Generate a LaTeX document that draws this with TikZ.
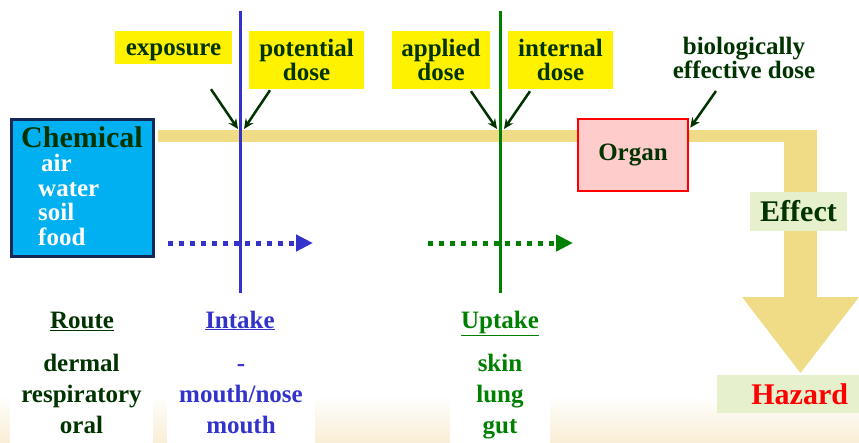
\documentclass[tikz,border=0pt]{standalone}
\usepackage{fontspec}
\setmainfont{Liberation Serif}
\usetikzlibrary{arrows.meta, positioning, calc}

\definecolor{leaf}{RGB}{0,51,0}
\definecolor{intakeblue}{RGB}{51,51,204}
\definecolor{uptakegreen}{RGB}{0,128,0}
\definecolor{bandtan}{RGB}{240,220,135}
\definecolor{chemcyan}{RGB}{0,176,240}
\definecolor{chemnavy}{RGB}{20,40,90}
\definecolor{organpink}{RGB}{255,204,204}
\definecolor{palegreen}{RGB}{230,240,204}
\definecolor{sandfoot}{RGB}{249,238,214}

\begin{document}
\begin{tikzpicture}[
  x=1pt, y=-1pt,
  font=\bfseries\fontsize{25}{24}\selectfont,
  tag/.style={fill=yellow, text=leaf, inner sep=0pt},
  pairtag/.style={tag, align=center, minimum height=58pt},
  ptr/.style={leaf, line width=2.5pt, -{Stealth[length=10pt,width=9pt]}},
  flow/.style={line width=5pt, dash pattern=on 5pt off 6pt, -{Triangle[length=17pt,width=16pt]}},
  col/.style={align=center, fill=white, inner xsep=0pt, inner ysep=10pt, anchor=north,
              font=\bfseries\fontsize{25}{31}\selectfont},
  head/.style={anchor=base, inner sep=0pt},
  big/.style={font=\bfseries\fontsize{30}{30}\selectfont}
]
  \clip (0,0) rectangle (859,442);
  \shade[top color=white, bottom color=sandfoot] (0,395) rectangle (859,442);

  % exposure band
  \fill[bandtan] (158,130) rectangle (817,142);
  \fill[bandtan] (784,130) rectangle (817,297);
  \fill[bandtan] (742,297) -- (859,297) -- (800.5,373) -- cycle;

  % dotted flows
  \coordinate (intakefrom) at (168,243);
  \coordinate (intaketo)   at (313,243);
  \coordinate (uptakefrom) at (428,243);
  \coordinate (uptaketo)   at (573,243);
  \draw[flow, intakeblue]  (intakefrom) -- (intaketo);
  \draw[flow, uptakegreen] (uptakefrom) -- (uptaketo);

  % boundaries
  \coordinate (intaketop) at (240,11);
  \coordinate (intakebot) at (240,293);
  \coordinate (uptaketop) at (500,11);
  \coordinate (uptakebot) at (500,293);
  \draw[intakeblue, line width=3pt]  (intaketop) -- (intakebot);
  \draw[uptakegreen, line width=3pt] (uptaketop) -- (uptakebot);

  % source and target
  \node[draw=chemnavy, line width=3pt, fill=chemcyan, minimum width=142pt, minimum height=137pt] (chem) at (82.5,188) {};
  \node[big, text=leaf, inner sep=0pt] (chemname) at (82,137) {Chemical};
  \node[text=white, align=left, anchor=north west, inner sep=0pt,
        font=\bfseries\fontsize{25}{24.7}\selectfont] (media) at (38,154) {\hspace*{3pt}air\\water\\soil\\food};
  \node[draw=red, line width=2.5pt, fill=organpink, minimum width=110pt, minimum height=72pt, text=leaf] (organ) at (633,155) {Organ};
  \node[fill=palegreen, minimum width=97pt, minimum height=39pt, text=leaf, big] (effect) at (798.5,211.5) {Effect};
  \node[fill=palegreen, minimum width=142pt, minimum height=38pt, text=red, big, inner xsep=11pt, text width=120pt, align=right] (hazard) at (788,394) {Hazard};

  % dose labels
  \node[tag, minimum width=117pt, minimum height=33pt, text height=20pt, text depth=5pt] (expo) at (173.5,47.5) {exposure};
  \node[pairtag, minimum width=115pt] (potential) at (306.5,60) {potential\\dose};
  \node[pairtag, minimum width=98pt]  (applied)   at (441,60)   {applied\\dose};
  \node[pairtag, minimum width=105pt] (internal)  at (560.5,60) {internal\\dose};
  \node[align=center, text=leaf]      (bioeff)    at (744,58)   {biologically\\effective dose};

  \coordinate (expohit)      at (238,129);
  \coordinate (potentialhit) at (244,129);
  \coordinate (appliedhit)   at (497,129);
  \coordinate (internalhit)  at (504,129);
  \draw[ptr] ([shift={(37.5,25)}]expo.south)      -- (expohit);
  \draw[ptr] ([shift={(-36.5,1)}]potential.south) -- (potentialhit);
  \draw[ptr] ([shift={(30,2)}]applied.south)      -- (appliedhit);
  \draw[ptr] ([shift={(-30.5,2)}]internal.south)  -- (internalhit);
  \draw[ptr] ([shift={(-28,33)}]bioeff.center)    -- ([shift={(1,10)}]organ.north east);

  % columns
  \node[head, text=leaf]        (route)  at (82,328)  {\underline{Route}};
  \node[head, text=intakeblue]  (intake) at (240,328) {\underline{Intake}};
  \node[head, text=uptakegreen] (uptake) at (500,328) {\underline{Uptake}};
  \node[col, text=leaf, text width=143pt]        (routes)  at (81.5,340) {\strut dermal\\respiratory\\oral};
  \node[col, text=intakeblue, text width=148pt]  (intakes) at (241,340)  {\strut -\\mouth/nose\\mouth};
  \node[col, text=uptakegreen, text width=100pt] (uptakes) at (500,340)  {\strut skin\\lung\\gut};
\end{tikzpicture}
\end{document}
